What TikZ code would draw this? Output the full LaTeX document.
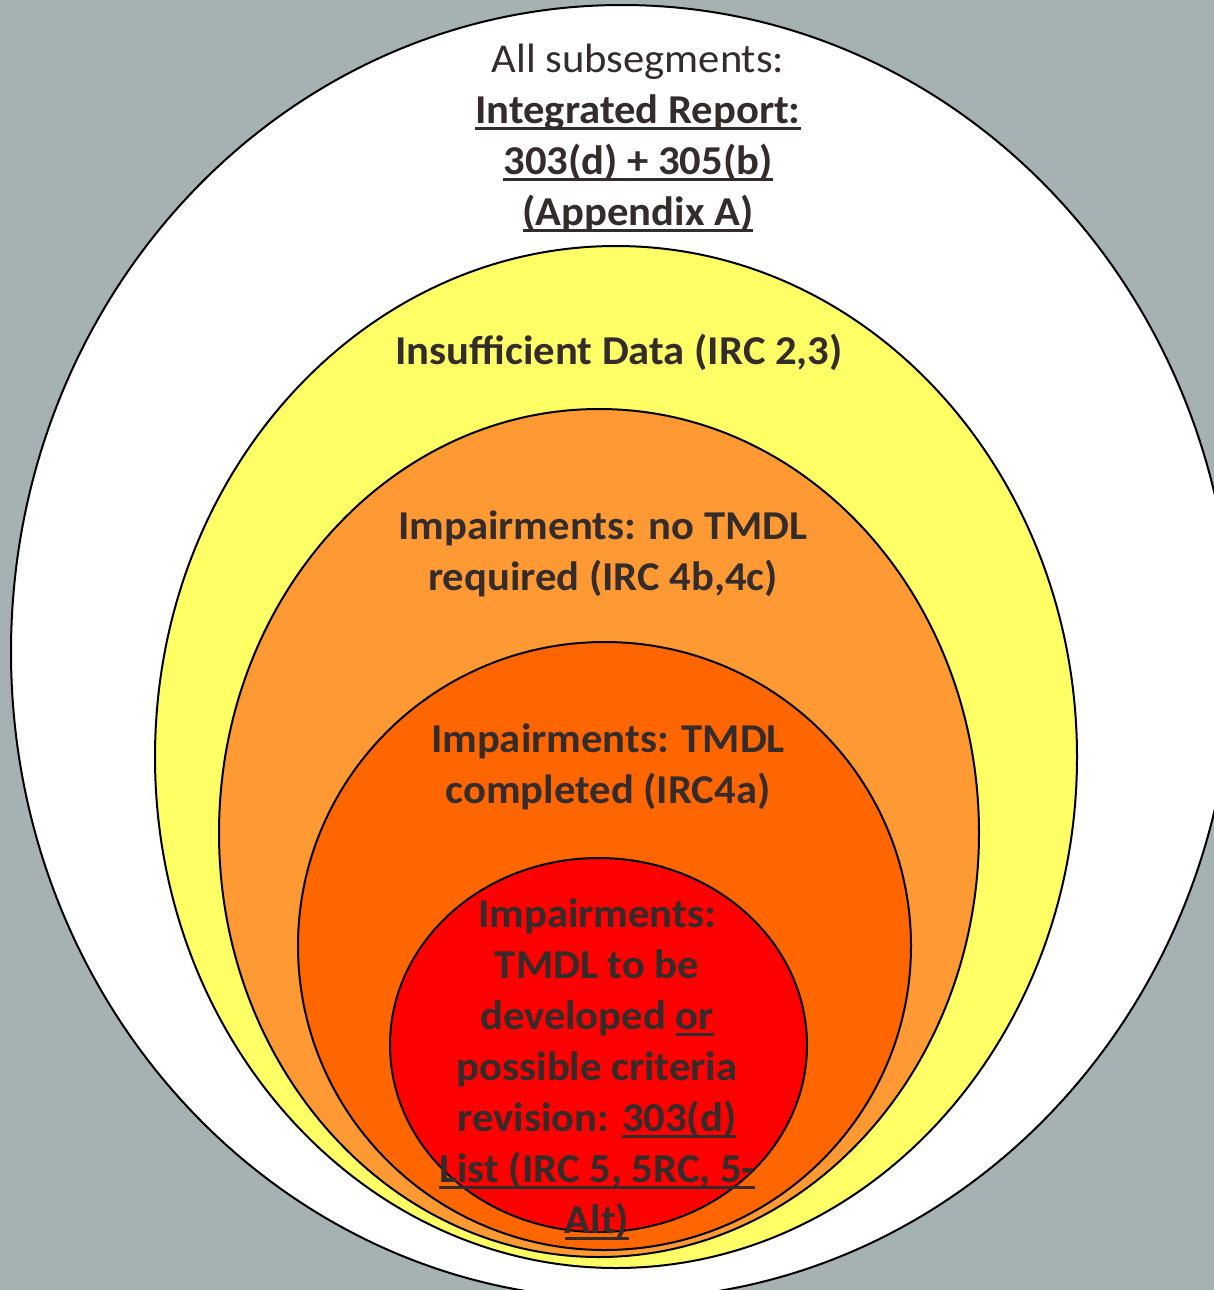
\documentclass[tikz,border=0pt]{standalone}
\usepackage{fontspec}
\setmainfont{Carlito}[FakeStretch=1.04]
\definecolor{bg}{RGB}{166,177,180}
\definecolor{cyellow}{RGB}{255,255,102}
\definecolor{corange}{RGB}{255,153,51}
\definecolor{cdorange}{RGB}{255,102,0}
\definecolor{cred}{RGB}{255,0,0}
\definecolor{txt}{RGB}{52,43,43}
\newsavebox\ulbox
\newcommand\ulin[1]{\sbox\ulbox{#1}\rlap{\rule[-3.3pt]{\wd\ulbox}{1.5pt}}\usebox\ulbox}
\begin{document}
\begin{tikzpicture}[x=0.5pt,y=-0.5pt,
  ring/.style={draw=black,line width=1pt},
  lbl/.style={text=txt,align=center,inner sep=0pt,font=\fontsize{20.5}{25.5}\selectfont\bfseries}]
\useasboundingbox (0,0) rectangle (1214,1290);
\clip (0,0) rectangle (1214,1290);
\fill[bg] (0,0) rectangle (1214,1290);
\draw[ring,fill=white] (622,652) ellipse [x radius=611, y radius=647];
\draw[ring,fill=cyellow] (616,757) ellipse [x radius=461, y radius=511];
\draw[ring,fill=corange] (599,833) ellipse [x radius=380, y radius=424];
\draw[ring,fill=cdorange] (604.5,946) ellipse [x radius=306.5, y radius=304];
\draw[ring,fill=cred] (598.5,1045) ellipse [x radius=208.5, y radius=187];
\node[lbl] (all) at (638,138) {{\mdseries All subsegments:}\\ \ulin{Integrated Report:}\\ \ulin{303(d) + 305(b)}\\ \ulin{(Appendix A)}};
\node[lbl] (insuf) at (619,352) {Insufficient Data (IRC 2,3)};
\node[lbl] (notmdl) at (603,554) {Impairments: no TMDL\\ required (IRC 4b,4c)};
\node[lbl] (done) at (608,767) {Impairments: TMDL\\ completed (IRC4a)};
\node[lbl] (list) at (597,1069) {Impairments:\\ TMDL to be\\ developed \ulin{or}\\ possible criteria\\ revision: \ulin{303(d)}\\ \ulin{List (IRC 5, 5RC, 5-}\\ \ulin{Alt)}};
\end{tikzpicture}
\end{document}
